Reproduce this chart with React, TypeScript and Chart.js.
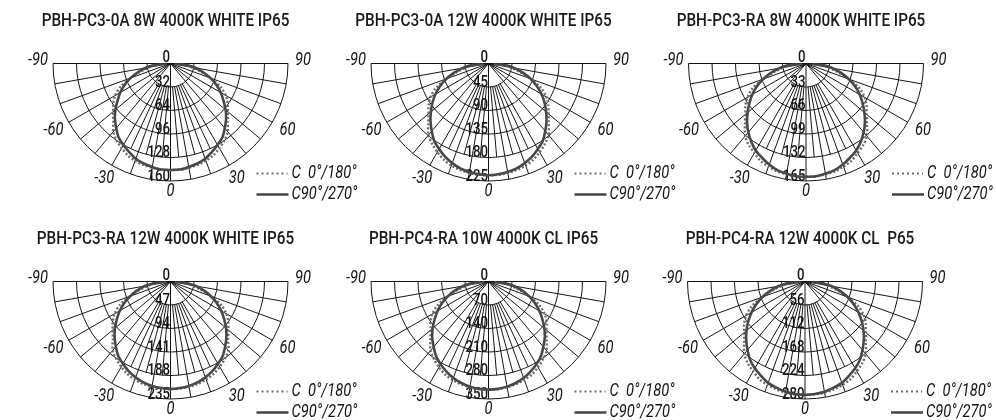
import React, { useEffect, useRef } from 'react';
import { Chart, registerables } from 'chart.js';

Chart.register(...registerables);

// ---- data ----
const ANGLES = [0, 5, 10, 15, 20, 25, 30, 35, 40, 45, 50, 55, 60, 65, 70, 75, 80, 85, 90];
const GRID_ANGLES = [-90, -80, -70, -60, -50, -40, -30, -20, -10, 0, 10, 20, 30, 40, 50, 60, 70, 80, 90];
const FINE_GRID_ANGLES = [-25, -15, -5, 5, 15, 25];
const ANGLE_TICKS = [-90, -60, -30, 0, 30, 60, 90];
const LEGEND_C0 = 'C  0°/180°';
const LEGEND_C90 = 'C90°/270°';

const TITLE_1 = 'PBH-PC3-0A 8W 4000K WHITE IP65';
const TITLE_2 = 'PBH-PC3-0A 12W 4000K WHITE IP65';
const TITLE_3 = 'PBH-PC3-RA 8W 4000K WHITE IP65';
const TITLE_4 = 'PBH-PC3-RA 12W 4000K WHITE IP65';
const TITLE_5 = 'PBH-PC4-RA 10W 4000K CL IP65';
const TITLE_6 = 'PBH-PC4-RA 12W 4000K CL  P65';

const TICKS_1 = [0, 32, 64, 96, 128, 160];
const TICKS_2 = [0, 45, 90, 135, 180, 225];
const TICKS_3 = [0, 33, 66, 99, 132, 165];
const TICKS_4 = [0, 47, 94, 141, 188, 235];
const TICKS_5 = [0, 70, 140, 210, 280, 350];
const TICKS_6 = [0, 56, 112, 168, 224, 280];

const C90_1 = [145, 145, 143, 141, 138, 133, 128, 123, 115, 107, 98, 88, 79, 69, 58, 46, 35, 22, 7];
const C0_1 = [145, 145, 144, 143, 141, 138, 133, 128, 121, 110, 102, 95, 87, 75, 58, 42, 29, 17, 6];
const C90_2 = [214, 213, 211, 208, 203, 197, 189, 181, 169, 157, 144, 131, 117, 102, 86, 68, 51, 32, 11];
const C0_2 = [214, 214, 213, 211, 208, 203, 196, 188, 179, 163, 150, 140, 128, 111, 86, 62, 43, 26, 9];
const C90_3 = [159, 159, 157, 155, 151, 146, 141, 134, 126, 117, 107, 97, 87, 76, 64, 51, 38, 24, 8];
const C0_3 = [159, 159, 158, 157, 154, 151, 145, 140, 133, 121, 111, 104, 95, 83, 64, 46, 32, 19, 6];
const C90_4 = [215, 214, 212, 209, 204, 198, 190, 182, 170, 158, 145, 131, 117, 102, 86, 69, 52, 32, 11];
const C0_4 = [215, 215, 214, 212, 209, 204, 197, 189, 180, 163, 151, 141, 129, 112, 86, 62, 43, 26, 9];
const C90_5 = [322, 321, 318, 313, 306, 296, 285, 272, 254, 237, 217, 196, 175, 153, 129, 103, 77, 48, 16];
const C0_5 = [322, 322, 320, 317, 312, 306, 295, 283, 269, 245, 225, 211, 193, 167, 129, 93, 64, 39, 13];
const C90_6 = [270, 269, 267, 262, 257, 248, 239, 228, 213, 198, 182, 165, 147, 128, 108, 86, 65, 41, 14];
const C0_6 = [270, 270, 269, 266, 262, 257, 247, 238, 225, 205, 189, 177, 162, 140, 108, 78, 54, 32, 11];

const PANELS = [
  { title: TITLE_1, ticks: TICKS_1, c0: C0_1, c90: C90_1 },
  { title: TITLE_2, ticks: TICKS_2, c0: C0_2, c90: C90_2 },
  { title: TITLE_3, ticks: TICKS_3, c0: C0_3, c90: C90_3 },
  { title: TITLE_4, ticks: TICKS_4, c0: C0_4, c90: C90_4 },
  { title: TITLE_5, ticks: TICKS_5, c0: C0_5, c90: C90_5 },
  { title: TITLE_6, ticks: TICKS_6, c0: C0_6, c90: C90_6 },
];

// ---- layout ----
const CENTERS = [
  [170.5, 63.5], [488.5, 63.5], [806, 63.5],
  [170.5, 281.5], [488.5, 281.5], [805, 281.5],
];
const RADIUS = 117.5;
const W = 340;
const H = 202;
const LEFT_OF_CENTER = 150;
const ABOVE_CENTER = 63;

const INK = '#141414';
const FONT = 'Roboto, "Liberation Sans", sans-serif';

function sText(ctx: CanvasRenderingContext2D, text: string, x: number, y: number, align: CanvasTextAlign, baseline: CanvasTextBaseline, font: string, sx: number, color = INK) {
  ctx.save();
  ctx.font = font;
  ctx.fillStyle = color;
  ctx.textAlign = align;
  ctx.textBaseline = baseline;
  ctx.translate(x, y);
  ctx.scale(sx, 1);
  ctx.fillText(text, 0, 0);
  ctx.restore();
}

function toPoints(values: number[]) {
  const pts: { x: number; y: number }[] = [];
  for (let i = ANGLES.length - 1; i >= 0; i--) {
    const a = (-ANGLES[i] * Math.PI) / 180;
    pts.push({ x: values[i] * Math.sin(a), y: -values[i] * Math.cos(a) });
  }
  for (let i = 1; i < ANGLES.length; i++) {
    const a = (ANGLES[i] * Math.PI) / 180;
    pts.push({ x: values[i] * Math.sin(a), y: -values[i] * Math.cos(a) });
  }
  return pts;
}

function makePlugin(spec: { title: string; ticks: number[] }) {
  return {
    id: 'polarGrid',
    beforeDatasetsDraw(chart: any) {
      const ctx: CanvasRenderingContext2D = chart.ctx;
      const xs = chart.scales.x;
      const ys = chart.scales.y;
      const cx = xs.getPixelForValue(0);
      const cy = ys.getPixelForValue(0);
      const rOf = (v: number) => xs.getPixelForValue(v) - cx;
      const R = rOf(spec.ticks[spec.ticks.length - 1]);
      const r1 = rOf(spec.ticks[1]);
      const r4 = rOf(spec.ticks[spec.ticks.length - 2]);
      ctx.save();
      ctx.strokeStyle = INK;
      ctx.lineWidth = 1;
      for (let k = 1; k < spec.ticks.length; k++) {
        ctx.beginPath();
        ctx.arc(cx, cy, rOf(spec.ticks[k]), 0, Math.PI);
        ctx.stroke();
      }
      ctx.beginPath();
      const ray = (a: number, r0: number, r: number) => {
        const rad = (a * Math.PI) / 180;
        const s = Math.sin(rad);
        const c = Math.cos(rad);
        ctx.moveTo(cx + r0 * s, cy + r0 * c);
        ctx.lineTo(cx + r * s, cy + r * c);
      };
      for (const a of GRID_ANGLES) {
        const abs = Math.abs(a);
        ray(a, abs > 0 && abs <= 30 ? r1 : 0, R);
      }
      for (const a of FINE_GRID_ANGLES) ray(a, r1, r4);
      ctx.stroke();
      ctx.restore();

      // ring labels
      for (let k = 0; k < spec.ticks.length; k++) {
        const r = rOf(spec.ticks[k]);
        sText(ctx, String(spec.ticks[k]), cx - 0.5, cy + r - (k === 0 ? 1.5 : 0.5), 'right', 'alphabetic', `500 17px ${FONT}`, 0.78);
      }
      // angle labels
      for (const a of ANGLE_TICKS) {
        const abs = Math.abs(a);
        const rad = (a * Math.PI) / 180;
        const gap = abs === 90 ? 15 : abs === 60 ? 17.5 : abs === 30 ? 15 : 11;
        const d = R + gap;
        const x = cx + d * Math.sin(rad);
        const y = cy + d * Math.cos(rad) + (abs === 90 ? -3 : 0);
        sText(ctx, String(a), x, y, 'center', 'middle', `italic 400 17.5px ${FONT}`, 0.84);
      }
    },
    afterDraw(chart: any) {
      const ctx: CanvasRenderingContext2D = chart.ctx;
      const xs = chart.scales.x;
      const ys = chart.scales.y;
      const cx = xs.getPixelForValue(0);
      const cy = ys.getPixelForValue(0);
      // title
      sText(ctx, spec.title, cx - 5, cy - 42, 'center', 'middle', `500 18px ${FONT}`, 0.85, '#1a1a1a');
      // legend
      ctx.save();
      ctx.strokeStyle = '#6a6a6a';
      ctx.lineWidth = 2;
      ctx.setLineDash([2, 3]);
      ctx.beginPath();
      ctx.moveTo(cx + 86, cy + 110);
      ctx.lineTo(cx + 117, cy + 110);
      ctx.stroke();
      ctx.setLineDash([]);
      ctx.strokeStyle = '#444';
      ctx.lineWidth = 2.5;
      ctx.beginPath();
      ctx.moveTo(cx + 86, cy + 131);
      ctx.lineTo(cx + 118, cy + 131);
      ctx.stroke();
      ctx.restore();
      sText(ctx, LEGEND_C0, cx + 121, cy + 110, 'left', 'middle', `italic 400 17.5px ${FONT}`, 0.84);
      sText(ctx, LEGEND_C90, cx + 121, cy + 131, 'left', 'middle', `italic 400 17.5px ${FONT}`, 0.84);
    },
  };
}

function Panel({ index }: { index: number }) {
  const ref = useRef<HTMLCanvasElement>(null);
  const spec = PANELS[index];
  const [cxAbs, cyAbs] = CENTERS[index];
  const left = Math.floor(cxAbs) - LEFT_OF_CENTER;
  const top = Math.floor(cyAbs) - ABOVE_CENTER;

  useEffect(() => {
    const canvas = ref.current;
    if (!canvas) return;
    const max = spec.ticks[spec.ticks.length - 1];
    const padLeft = cxAbs - left - RADIUS;
    const padTop = cyAbs - top;
    const chart = new Chart(canvas, {
      type: 'scatter',
      data: {
        datasets: [
          {
            label: LEGEND_C90,
            data: toPoints(spec.c90),
            showLine: true,
            borderColor: '#484848',
            borderWidth: 2.6,
            pointRadius: 0,
            tension: 0.3,
            fill: false,
          },
          {
            label: LEGEND_C0,
            data: toPoints(spec.c0),
            showLine: true,
            borderColor: '#6c6c6c',
            borderWidth: 2.4,
            borderDash: [2, 2],
            pointRadius: 0,
            tension: 0.3,
            fill: false,
          },
        ],
      } as any,
      options: {
        responsive: false,
        animation: false,
        events: [],
        layout: {
          padding: {
            left: padLeft,
            right: W - padLeft - 2 * RADIUS,
            top: padTop,
            bottom: H - padTop - RADIUS,
          },
        },
        scales: {
          x: { type: 'linear', min: -max, max: max, display: false },
          y: { type: 'linear', min: -max, max: 0, display: false },
        },
        plugins: {
          legend: { display: false },
          tooltip: { enabled: false },
          title: { display: false },
        },
      } as any,
      plugins: [makePlugin(spec)],
    });
    return () => chart.destroy();
  }, []);

  return (
    <canvas
      ref={ref}
      width={W}
      height={H}
      style={{ position: 'absolute', left, top, width: W, height: H }}
    />
  );
}

export default function App() {
  return (
    <div style={{ position: 'absolute', left: 0, top: 0, width: 996, height: 420, background: '#fff', overflow: 'hidden' }}>
      {PANELS.map((_, i) => (
        <Panel key={i} index={i} />
      ))}
    </div>
  );
}
